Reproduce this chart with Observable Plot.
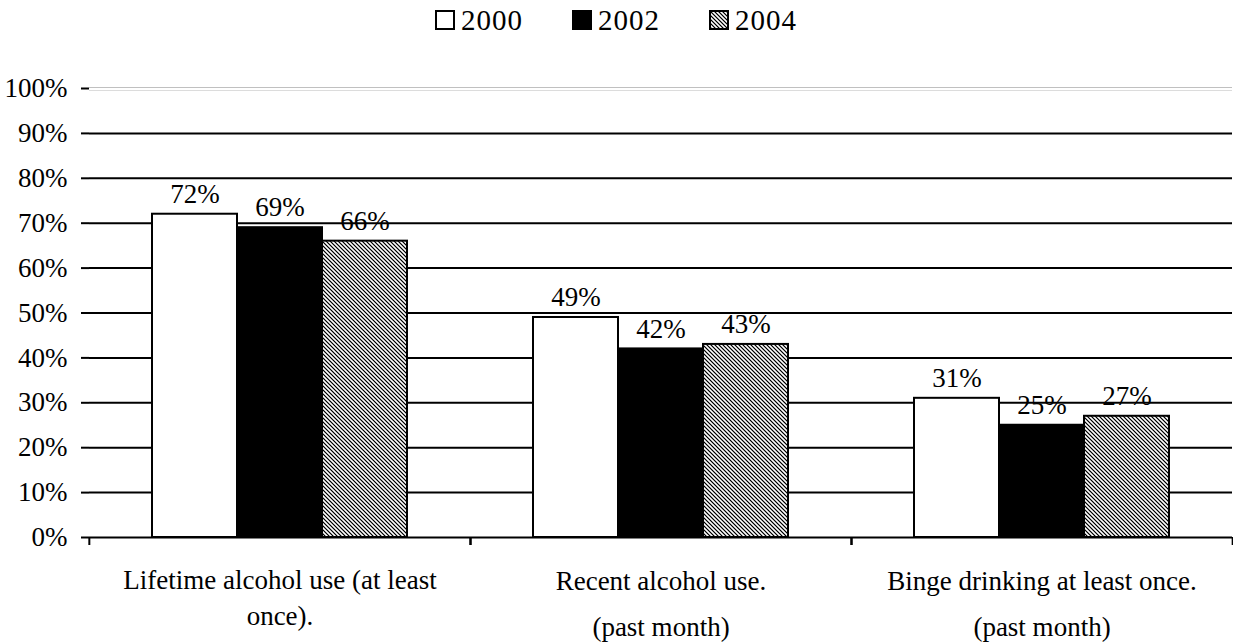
<!DOCTYPE html>
<html>
<head>
<meta charset="utf-8">
<script src="https://cdn.jsdelivr.net/npm/d3@7"></script>
<script src="https://cdn.jsdelivr.net/npm/@observablehq/plot@0.6"></script>
<style>
  body { margin: 0; background: #fff; font-family: 'Liberation Serif', 'Times New Roman', serif; color: #000; }
  #legend { height: 40px; display: flex; justify-content: center; align-items: center; gap: 48px; font-size: 29px; }
  #legend .item { display: flex; align-items: center; }
  #legend .item span { display: inline-block; width: 63px; margin-left: 6px; letter-spacing: 1px; }
</style>
</head>
<body>
<svg width="0" height="0" style="position:absolute">
  <defs>
    <pattern id="hatch" width="4" height="4" patternUnits="userSpaceOnUse">
      <rect width="4" height="4" fill="#a8a8a8"/>
      <rect x="0" y="0" width="1" height="1" fill="#000"/>
      <rect x="1" y="1" width="1" height="1" fill="#000"/>
      <rect x="2" y="2" width="1" height="1" fill="#000"/>
      <rect x="3" y="3" width="1" height="1" fill="#000"/>
      <rect x="2" y="0" width="1" height="1" fill="#fff"/>
      <rect x="3" y="1" width="1" height="1" fill="#fff"/>
      <rect x="0" y="2" width="1" height="1" fill="#fff"/>
      <rect x="1" y="3" width="1" height="1" fill="#fff"/>
    </pattern>
  </defs>
</svg>
<div id="legend"></div>
<div id="chart"></div>
<script>
const categories = [
  "Lifetime alcohol use (at least\nonce).",
  "Recent alcohol use.\n(past month)",
  "Binge drinking at least once.\n(past month)"
];
const years = ["2000", "2002", "2004"];
const values2000 = [72, 49, 31];
const values2002 = [69, 42, 25];
const values2004 = [66, 43, 27];
const yTicks = [0, 10, 20, 30, 40, 50, 60, 70, 80, 90, 100];
const yearFills = ["#ffffff", "#000000", "url(#hatch)"];

const series = [values2000, values2002, values2004];
const data = categories.flatMap((c, i) =>
  years.map((y, j) => ({category: c, year: y, value: series[j][i]}))
);

const FONT = "'Liberation Serif', 'Times New Roman', serif";

// Legend
const legend = document.getElementById("legend");
years.forEach((y, j) => {
  const item = document.createElement("div");
  item.className = "item";
  item.innerHTML = `<svg width="20" height="20"><rect x="1" y="1" width="18" height="18" fill="${yearFills[j]}" stroke="#000" stroke-width="2"/></svg><span>${y}</span>`;
  legend.appendChild(item);
});

const W = 1233, H = 602, mL = 88, mR = 1, mT = 48, mB = 105;
const facetBand = (W - mL - mR) / categories.length;

const chart = Plot.plot({
  width: W,
  height: H,
  marginTop: mT,
  marginBottom: mB,
  marginLeft: mL,
  marginRight: mR,
  style: {fontFamily: FONT, fontSize: "27px", color: "#000", background: "#fff", overflow: "visible"},
  fx: {domain: categories, padding: 0, axis: null},
  x: {domain: years, paddingInner: 0, paddingOuter: 0.74, axis: null},
  y: {domain: [0, 100], axis: null},
  color: {domain: years, range: yearFills},
  marks: [
    Plot.ruleY(yTicks.filter(t => t > 0 && t < 100), {stroke: "#000", strokeWidth: 2}),
    Plot.ruleY([100], {stroke: "#c0c0c0", strokeWidth: 1, dy: -1}),
    Plot.ruleY([100], {stroke: "#dcdcdc", strokeWidth: 1, dy: 2}),
    Plot.barY(data, {fx: "category", x: "year", y: "value", fill: "year", stroke: "#000", strokeWidth: 2}),
    Plot.text(data, {fx: "category", x: "year", y: "value", text: d => d.value + "%", dy: -20, fontSize: 27, fontFamily: FONT}),
    Plot.ruleY([0], {stroke: "#000", strokeWidth: 2}),
    Plot.axisY({ticks: yTicks, tickFormat: d => d + "%", tickSize: 8, tickPadding: 14, strokeWidth: 2, line: true, fontSize: 27, fontFamily: FONT, label: null}),
    Plot.ruleX(categories, {fx: d => d, x: null, y1: () => 0, y2: () => 0, insetBottom: -8, dx: -facetBand / 2, stroke: "#000", strokeWidth: 2}),
    Plot.ruleX(categories, {fx: d => d, x: null, y1: () => 0, y2: () => 0, insetBottom: -8, dx: facetBand / 2, stroke: "#000", strokeWidth: 2}),
    Plot.text(categories, {filter: (d, i) => i === 0, fx: d => d, text: d => d, frameAnchor: "bottom", lineAnchor: "top", dy: 26, lineHeight: 1.33, fontSize: 27, fontFamily: FONT}),
    Plot.text(categories, {filter: (d, i) => i > 0, fx: d => d, text: d => d, frameAnchor: "bottom", lineAnchor: "top", dy: 20, lineHeight: 1.7, fontSize: 27, fontFamily: FONT})
  ]
});
document.getElementById("chart").appendChild(chart);
</script>
</body>
</html>
